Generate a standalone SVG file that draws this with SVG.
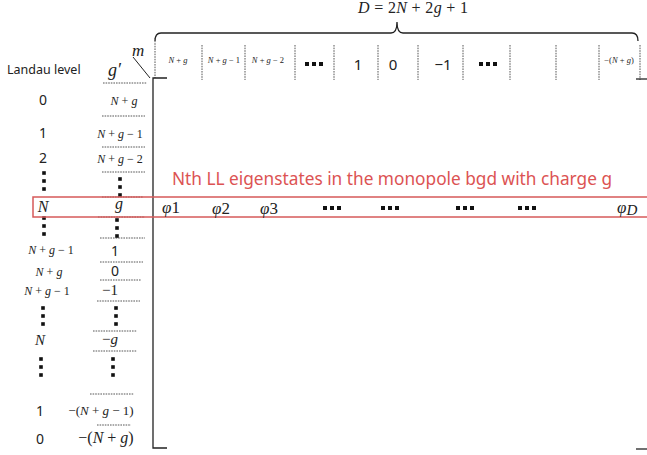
<svg xmlns="http://www.w3.org/2000/svg" xmlns:xlink="http://www.w3.org/1999/xlink" width="647" height="455" viewBox="0 0 647 455">
<style>
.m{font-family:"Liberation Serif","DejaVu Serif",serif;fill:#222}
.i{font-style:italic}
.s{font-family:"Noto Sans","Liberation Sans",sans-serif;fill:#222}
.d{stroke:#444;stroke-width:0.9;stroke-dasharray:1.6 1;fill:none}
.ax{stroke:#222;stroke-width:1.3;fill:none}
.red{font-family:"Noto Sans","Liberation Sans",sans-serif;fill:#dc5353}
</style>
<defs>
<symbol id="vd" overflow="visible"><rect x="-1.8" y="-1.8" width="3.6" height="3.6"/><rect x="-1.8" y="6.2" width="3.6" height="3.6"/><rect x="-1.8" y="14.2" width="3.6" height="3.6"/></symbol>
<symbol id="hd" overflow="visible"><rect x="0" y="-2" width="4" height="4"/><rect x="7" y="-2" width="4" height="4"/><rect x="14" y="-2" width="4" height="4"/></symbol>
</defs>
<rect width="647" height="455" fill="#fff"/>

<g id="header">
<text class="m" x="358" y="13" font-size="16" textLength="110"><tspan class="i">D</tspan> = 2<tspan class="i">N</tspan> + 2<tspan class="i">g</tspan> + 1</text>
<path class="ax" d="M155,41 Q155,33 161,33 L391,33 Q397,33 397,22 Q397,33 403,33 L632,33 Q638,33 638,41" stroke-width="1.5"/>
<g id="colsep">
<line class="d" x1="155" y1="38" x2="155" y2="78"/>
<line class="d" x1="202" y1="45" x2="202" y2="80"/>
<line class="d" x1="245" y1="45" x2="245" y2="80"/>
<line class="d" x1="295" y1="45" x2="295" y2="80"/>
<line class="d" x1="334" y1="45" x2="334" y2="80"/>
<line class="d" x1="378" y1="45" x2="378" y2="80"/>
<line class="d" x1="418" y1="45" x2="418" y2="80"/>
<line class="d" x1="463" y1="45" x2="463" y2="80"/>
<line class="d" x1="510" y1="45" x2="510" y2="80"/>
<line class="d" x1="556" y1="45" x2="556" y2="80"/>
<line class="d" x1="599" y1="45" x2="599" y2="80"/>
<line class="d" x1="640" y1="45" x2="640" y2="80"/>
</g>
<g id="collabels" text-anchor="middle">
<text class="m" x="178" y="63" font-size="8.5"><tspan class="i">N</tspan> + <tspan class="i">g</tspan></text>
<text class="m" x="224" y="63" font-size="8.5"><tspan class="i">N</tspan> + <tspan class="i">g</tspan> − 1</text>
<text class="m" x="268" y="63" font-size="8.5"><tspan class="i">N</tspan> + <tspan class="i">g</tspan> − 2</text>
<use xlink:href="#hd" x="305" y="64" fill="#111"/>
<text class="s" x="358" y="70" font-size="15">1</text>
<text class="s" x="393" y="70" font-size="15">0</text>
<text class="s" x="443" y="70" font-size="15">−1</text>
<use xlink:href="#hd" x="479" y="64" fill="#111"/>
<text class="m" x="619" y="63" font-size="8.5">−(<tspan class="i">N</tspan> + <tspan class="i">g</tspan>)</text>
</g>
</g>

<g id="axes">
<path class="ax" d="M167,78 L153,78 L153,448 L167,448"/>
<line class="ax" x1="636" y1="79" x2="647" y2="79"/>
<line class="ax" x1="636" y1="449" x2="647" y2="449"/>
<line x1="133" y1="57" x2="150" y2="78" stroke="#222" stroke-width="1"/>
<text class="m i" x="132" y="56" font-size="17">m</text>
<text class="m i" x="108" y="76" font-size="18">g′</text>
<text class="s" x="7" y="74" font-size="12.5" fill="#333">Landau level</text>
</g>

<g id="rowsep">
<line class="d" x1="103" y1="83" x2="147" y2="83"/>
<line class="d" x1="102" y1="116" x2="145" y2="116"/>
<line class="d" x1="102" y1="147" x2="145" y2="147"/>
<line class="d" x1="102" y1="172" x2="145" y2="172"/>
<line class="d" x1="102" y1="197" x2="143" y2="197"/>
<line class="d" x1="98" y1="217" x2="145" y2="217"/>
<line class="d" x1="100" y1="238" x2="145" y2="238"/>
<line class="d" x1="100" y1="262" x2="143" y2="262"/>
<line class="d" x1="100" y1="280" x2="141" y2="280"/>
<line class="d" x1="97" y1="301" x2="140" y2="301"/>
<line class="d" x1="93" y1="331" x2="137" y2="331"/>
<line class="d" x1="93" y1="351" x2="137" y2="351"/>
<line class="d" x1="90" y1="394" x2="134" y2="394"/>
<line class="d" x1="97" y1="425" x2="131" y2="425"/>
</g>

<g id="gcol" text-anchor="middle">
<text class="m" x="124" y="105" font-size="12"><tspan class="i">N</tspan> + <tspan class="i">g</tspan></text>
<text class="m" x="120" y="138" font-size="12"><tspan class="i">N</tspan> + <tspan class="i">g</tspan> − 1</text>
<text class="m" x="120" y="163" font-size="12"><tspan class="i">N</tspan> + <tspan class="i">g</tspan> − 2</text>
<use xlink:href="#vd" x="120" y="179" fill="#111"/>
<text class="m i" x="119" y="209" font-size="16">g</text>
<use xlink:href="#vd" x="117" y="220" fill="#111"/>
<text class="s" x="115" y="256" font-size="14">1</text>
<text class="s" x="115" y="276" font-size="14">0</text>
<text class="m" x="110" y="295" font-size="15">−1</text>
<use xlink:href="#vd" x="116" y="308" fill="#111"/>
<text class="m" x="110" y="344" font-size="15">−<tspan class="i">g</tspan></text>
<use xlink:href="#vd" x="113" y="359" fill="#111"/>
<text class="m" x="101" y="415" font-size="13">−(<tspan class="i">N</tspan> + <tspan class="i">g</tspan> − 1)</text>
<text class="m" x="106" y="443" font-size="16">−(<tspan class="i">N</tspan> + <tspan class="i">g</tspan>)</text>
</g>

<g id="llcol" text-anchor="middle">
<text class="s" x="43" y="105" font-size="14">0</text>
<text class="s" x="43" y="138" font-size="14">1</text>
<text class="s" x="43" y="163" font-size="14">2</text>
<use xlink:href="#vd" x="44" y="173" fill="#111"/>
<text class="m i" x="43" y="212" font-size="16">N</text>
<use xlink:href="#vd" x="44" y="218" fill="#111"/>
<text class="m" x="51" y="254" font-size="12"><tspan class="i">N</tspan> + <tspan class="i">g</tspan> − 1</text>
<text class="m" x="49" y="276" font-size="12"><tspan class="i">N</tspan> + <tspan class="i">g</tspan></text>
<text class="m" x="47" y="295" font-size="12"><tspan class="i">N</tspan> + <tspan class="i">g</tspan> − 1</text>
<use xlink:href="#vd" x="43" y="308" fill="#111"/>
<text class="m i" x="40" y="345" font-size="15">N</text>
<use xlink:href="#vd" x="41" y="359" fill="#111"/>
<text class="s" x="40" y="416" font-size="14">1</text>
<text class="s" x="40" y="444" font-size="14">0</text>
</g>

<g id="highlight">
<rect x="33" y="197" width="622" height="20" fill="none" stroke="#d65a5a" stroke-width="1.5"/>
<text class="red" x="172" y="185" font-size="18" textLength="440" lengthAdjust="spacingAndGlyphs">Nth LL eigenstates in the monopole bgd with charge g</text>
</g>

<g id="phirow">
<text class="m" x="162" y="213" font-size="17"><tspan class="i">φ</tspan>1</text>
<text class="m" x="212" y="214" font-size="17"><tspan class="i">φ</tspan>2</text>
<text class="m" x="260" y="214" font-size="17"><tspan class="i">φ</tspan>3</text>
<use xlink:href="#hd" x="323" y="208" fill="#111"/>
<use xlink:href="#hd" x="381" y="208" fill="#111"/>
<use xlink:href="#hd" x="456" y="208" fill="#111"/>
<use xlink:href="#hd" x="518" y="208" fill="#111"/>
<text class="m" x="617" y="213" font-size="17"><tspan class="i">φ</tspan><tspan class="i" font-size="15" dy="2">D</tspan></text>
</g>
</svg>
